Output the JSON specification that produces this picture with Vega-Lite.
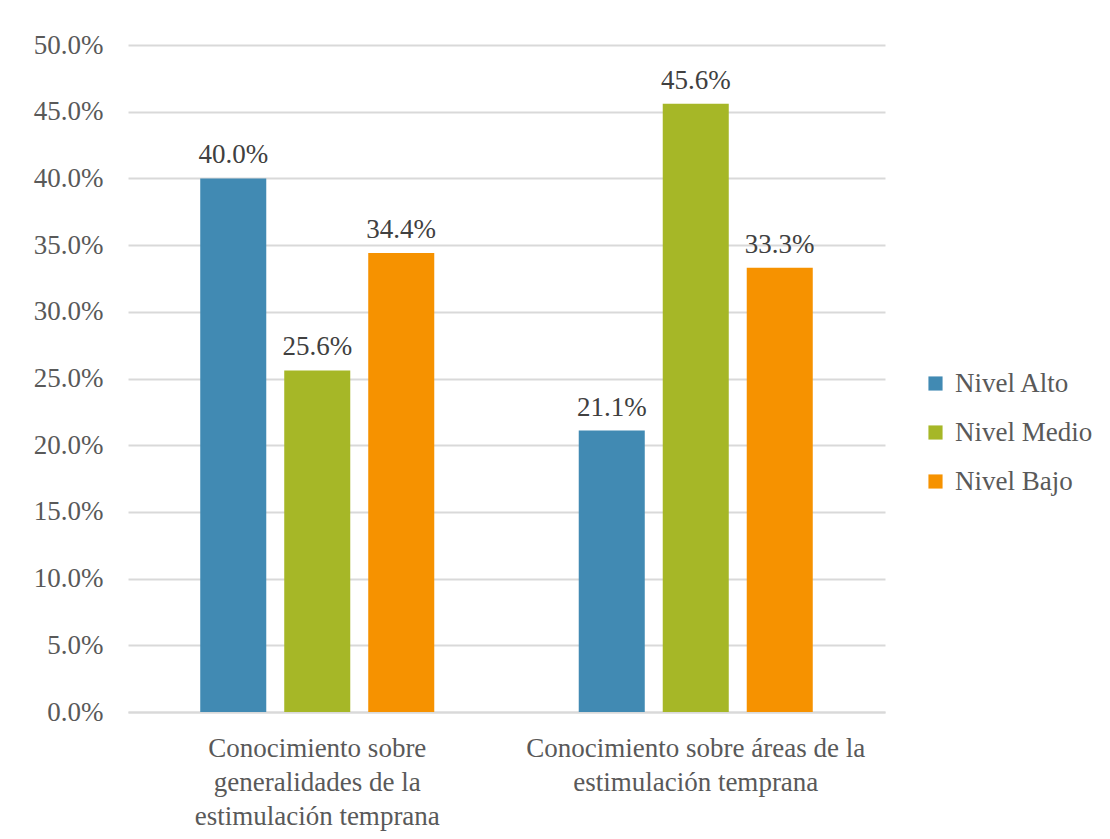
{
  "$schema": "https://vega.github.io/schema/vega-lite/v6.json",
  "autosize": "none",
  "padding": {"left": 128, "top": 45, "right": 225, "bottom": 127},
  "width": 757,
  "height": 667,
  "background": "white",
  "config": {
    "view": {"stroke": null},
    "font": "'Liberation Serif', 'DejaVu Serif', serif"
  },
  "data": {
    "values": [
      {"categoria": "Conocimiento sobre|generalidades de la|estimulación temprana", "nivel": "Nivel Alto", "valor": 0.400},
      {"categoria": "Conocimiento sobre|generalidades de la|estimulación temprana", "nivel": "Nivel Medio", "valor": 0.256},
      {"categoria": "Conocimiento sobre|generalidades de la|estimulación temprana", "nivel": "Nivel Bajo", "valor": 0.344},
      {"categoria": "Conocimiento sobre áreas de la|estimulación temprana", "nivel": "Nivel Alto", "valor": 0.211},
      {"categoria": "Conocimiento sobre áreas de la|estimulación temprana", "nivel": "Nivel Medio", "valor": 0.456},
      {"categoria": "Conocimiento sobre áreas de la|estimulación temprana", "nivel": "Nivel Bajo", "valor": 0.333}
    ]
  },
  "encoding": {
    "x": {
      "field": "categoria", "type": "nominal", "sort": null,
      "scale": {"paddingInner": 0, "paddingOuter": 0},
      "axis": {
        "title": null, "labelAngle": 0, "labelExpr": "split(datum.label, '|')",
        "labelFont": "'Liberation Serif', 'DejaVu Serif', serif", "labelFontSize": 27, "labelColor": "#595959",
        "labelLineHeight": 34, "labelPadding": 23, "ticks": false,
        "domainColor": "#D9D9D9", "domainWidth": 2, "labelLimit": 0
      }
    },
    "xOffset": {
      "field": "nivel", "type": "nominal",
      "sort": ["Nivel Alto", "Nivel Medio", "Nivel Bajo"],
      "scale": {"paddingInner": 0.214, "paddingOuter": 0.86}
    },
    "y": {
      "field": "valor", "type": "quantitative",
      "scale": {"domain": [0, 0.5]},
      "axis": {
        "title": null, "format": ".1%", "values": [0,0.05,0.1,0.15,0.2,0.25,0.3,0.35,0.4,0.45,0.5],
        "labelOverlap": false,
        "labelFont": "'Liberation Serif', 'DejaVu Serif', serif", "labelFontSize": 27, "labelColor": "#595959",
        "labelPadding": 25, "ticks": false, "domain": false,
        "gridColor": "#D9D9D9", "gridWidth": 2
      }
    }
  },
  "layer": [
    {
      "mark": {"type": "bar"},
      "encoding": {
        "color": {
          "field": "nivel", "type": "nominal",
          "sort": ["Nivel Alto", "Nivel Medio", "Nivel Bajo"],
          "scale": {"domain": ["Nivel Alto", "Nivel Medio", "Nivel Bajo"], "range": ["#418AB3", "#A6B727", "#F69200"]},
          "legend": {
            "title": null, "orient": "none", "legendX": 794, "legendY": 325,
            "symbolType": "square", "symbolSize": 200, "symbolStrokeWidth": 0,
            "labelFont": "'Liberation Serif', 'DejaVu Serif', serif", "labelFontSize": 27, "labelColor": "#595959",
            "rowPadding": 21, "labelOffset": 6, "labelLimit": 0
          }
        }
      }
    },
    {
      "mark": {"type": "text", "baseline": "bottom", "dy": -9, "fontSize": 27, "font": "'Liberation Serif', 'DejaVu Serif', serif", "color": "#404040"},
      "encoding": {
        "text": {"field": "valor", "type": "quantitative", "format": ".1%"}
      }
    }
  ]
}
